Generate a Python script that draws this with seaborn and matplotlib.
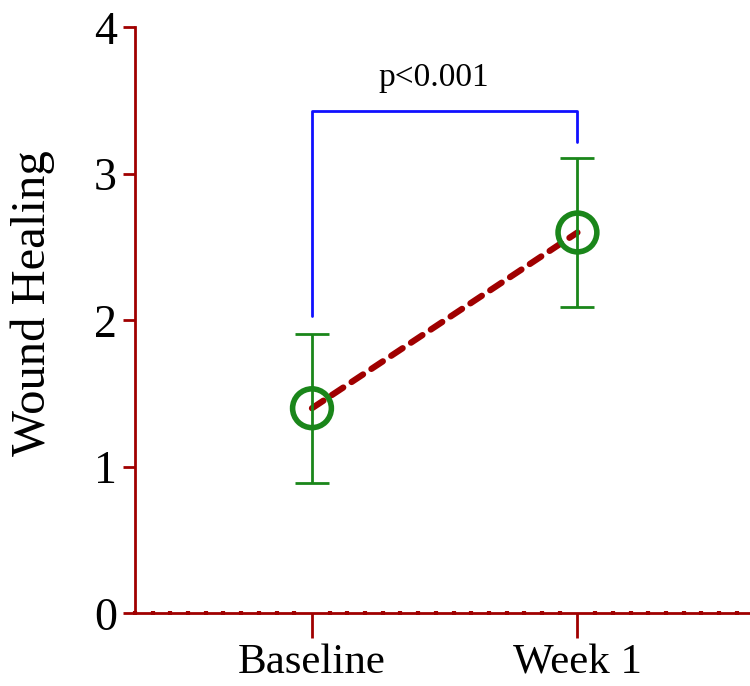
import numpy as np
import pandas as pd
import matplotlib
matplotlib.use('Agg')
import matplotlib.pyplot as plt
import seaborn as sns
from matplotlib.ticker import MultipleLocator

# values
timepoints = ['Baseline', 'Week 1']
means = [1.4, 2.6]
sds = [0.51, 0.51]
bracket_left = 2.03
bracket_top = 3.43
bracket_right = 3.22
p_label = 'p<0.001'

sns.set_style('ticks')
plt.rcParams['font.family'] = ['Liberation Serif', 'DejaVu Serif']
plt.rcParams['text.color'] = 'black'
plt.rcParams['axes.labelcolor'] = 'black'
plt.rcParams['xtick.labelcolor'] = 'black'
plt.rcParams['ytick.labelcolor'] = 'black'

axis_red = '#a00000'
green = '#1a861a'

df = pd.DataFrame({'pos': [0, 1], 'mean': means, 'sd': sds})

fig, ax = plt.subplots(figsize=(7.5, 6.86), dpi=100)
fig.subplots_adjust(left=0.18, right=1.0, bottom=0.106, top=0.96)

# dashed connecting line
sns.lineplot(data=df, x='pos', y='mean', ax=ax, color=axis_red, lw=4.5,
             linestyle=(0, (2.2, 1.6)), dash_capstyle='round', zorder=2)
# error bars
ax.errorbar(df['pos'], df['mean'], yerr=df['sd'], fmt='none', ecolor=green,
            elinewidth=2, capsize=12.5, capthick=2, zorder=3)
# open circle markers
sns.scatterplot(data=df, x='pos', y='mean', ax=ax, s=780, facecolor='none',
                edgecolor=green, linewidth=4, zorder=4)

# significance bracket
ax.plot([0, 0, 1, 1], [bracket_left, bracket_top, bracket_top, bracket_right],
        color='#1010ff', lw=2, zorder=2)
ax.text(0.46, bracket_top + 0.12, p_label, ha='center', va='bottom', fontsize=24)

ax.set_xlim(-10 / 15, 1.65)
ax.set_ylim(0, 4)
ax.set_xticks([0, 1])
ax.set_xticklabels(timepoints)
ax.set_yticks([0, 1, 2, 3, 4])
ax.xaxis.set_minor_locator(MultipleLocator(1 / 15))
ax.set_xlabel('')
ax.set_ylabel('Wound Healing', fontsize=35)
ax.yaxis.set_label_coords(-0.13, 0.53)

for side in ['top', 'right']:
    ax.spines[side].set_visible(False)
for side in ['left', 'bottom']:
    ax.spines[side].set_color(axis_red)
    ax.spines[side].set_linewidth(2)

ax.tick_params(axis='x', which='major', length=18, width=2, color=axis_red,
               labelsize=31, pad=4)
ax.tick_params(axis='x', which='minor', length=3, width=3, color=axis_red,
               direction='inout')
ax.tick_params(axis='y', length=9, width=2, color=axis_red, labelsize=33, pad=4)

fig.savefig('out.png', dpi=100)
